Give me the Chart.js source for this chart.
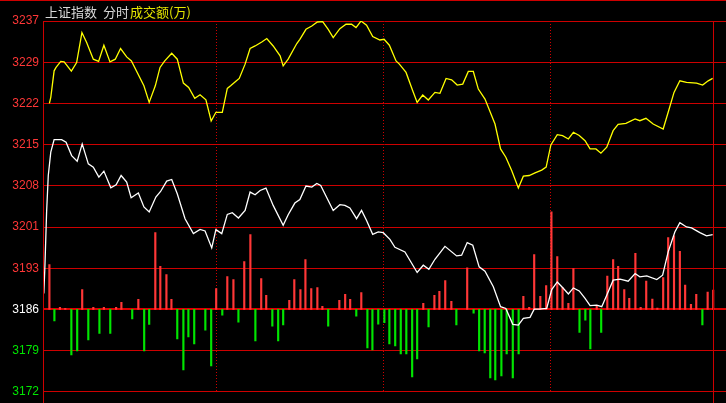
<!DOCTYPE html>
<html>
<head>
<meta charset="utf-8">
<script src="https://cdn.jsdelivr.net/npm/chart.js@4"></script>
<style>
  html, body { margin: 0; padding: 0; background: #000; }
  canvas { display: block; }
</style>
</head>
<body>
<canvas id="fenshi" width="726" height="403"></canvas>
<script>
// previous close and grid step of the price axis
const BASE = 3186;
const STEP = 7.222;
const tickLabels = ['3172', '3179', '3186', '3193', '3201', '3208', '3215', '3222', '3229', '3237'];

// minute index (0 = open) for each reading
const priceTimes = [0.3, 0.7, 1.3, 1.9, 2.8, 4.0, 6.7, 8.3, 10.3, 12.3, 14.1, 16.3, 18.1, 20.1, 21.9, 24.4, 26.3, 28.1, 30.1, 31.7,
  34.3, 36.3, 38.2, 40.6, 42.3, 44.5, 46.3, 48.3, 51.1, 54.1, 56.5, 58.3, 60.7, 62.2, 64.3, 66.3, 68.1, 70.3, 72.7, 74.5,
  76.3, 78.1, 80.2, 82.8, 86.4, 88.2, 90.6, 92.4, 94.6, 96.7, 98.5, 99.9, 102.6, 104.4, 106.8, 108.6, 110.4, 112.8, 114.6, 116.4,
  118.6, 120.6, 122.4, 124.8, 126.6, 130.2, 134.6, 136.8, 138.8, 141.0, 144.6, 148.8, 150.6, 152.6, 154.6, 156.9, 159.0, 162.0, 164.6, 166.5,
  169.0, 171.0, 172.8, 175.2, 176.7, 178.5, 181.2, 183.0, 185.0, 186.9, 189.0, 190.8, 192.9, 195.0, 196.8, 199.2, 201.0, 202.8, 205.1, 207.6,
  210.5, 213.0, 214.7, 217.2, 220.8, 222.9, 224.9, 227.3, 229.1, 231.5, 233.3, 236.3, 238.7, 240.9];
const priceValues = [3188.80, 3193.74, 3203.12, 3209.47, 3213.56, 3215.76, 3215.76, 3215.30, 3212.96, 3211.98, 3215.01, 3211.51, 3210.94, 3209.19, 3210.24, 3207.32, 3207.84, 3209.47, 3208.31, 3205.57,
  3206.39, 3203.95, 3203.07, 3205.69, 3206.67, 3208.49, 3208.77, 3206.27, 3201.90, 3199.28, 3200.03, 3199.75, 3196.78, 3199.98, 3199.28, 3202.65, 3202.95, 3202.02, 3203.35, 3206.57,
  3206.10, 3206.85, 3207.27, 3204.23, 3200.73, 3202.60, 3204.64, 3205.27, 3207.62, 3207.44, 3208.07, 3207.72, 3205.10, 3203.35, 3204.35, 3204.23, 3203.77, 3201.90, 3203.35, 3201.60,
  3199.16, 3199.58, 3199.45, 3198.28, 3196.89, 3196.08, 3192.47, 3193.74, 3193.04, 3194.79, 3197.06, 3195.38, 3195.49, 3197.71, 3197.24, 3193.46, 3192.69, 3189.97, 3186.47, 3186.17,
  3183.38, 3183.26, 3184.43, 3184.60, 3186.05, 3186.05, 3186.17, 3189.49, 3190.81, 3189.84, 3188.71, 3189.76, 3189.23, 3187.92, 3186.65, 3186.75, 3186.47, 3188.50, 3191.12, 3191.29,
  3190.95, 3192.29, 3191.71, 3191.89, 3191.24, 3191.99, 3196.08, 3199.58, 3201.20, 3200.45, 3200.28, 3199.45, 3198.88, 3199.11];

const avgTimes = [2.3, 2.8, 4.0, 4.7, 6.4, 7.6, 10.2, 12.1, 14.0, 15.7, 18.1, 20.0, 21.9, 24.1, 26.0, 27.9, 30.1, 31.8, 36.3, 38.2,
  40.4, 42.1, 43.8, 46.3, 48.3, 50.5, 52.4, 54.6, 56.5, 58.6, 60.5, 62.2, 64.5, 66.3, 67.5, 69.7, 70.6, 72.7, 74.5, 76.3,
  78.7, 80.5, 82.8, 85.3, 86.4, 88.2, 91.3, 92.4, 94.6, 96.7, 98.7, 100.6, 102.6, 104.4, 106.8, 109.0, 111.0, 112.6, 114.4, 116.4,
  118.6, 121.2, 122.7, 124.6, 127.0, 128.2, 130.6, 133.0, 134.6, 136.6, 138.6, 141.0, 142.8, 145.0, 147.0, 149.0, 151.0, 153.0, 154.8, 156.6,
  159.0, 162.6, 164.6, 166.5, 168.6, 171.0, 172.8, 174.9, 177.0, 179.4, 181.0, 182.7, 185.0, 186.9, 189.0, 190.8, 192.9, 195.0, 196.8, 198.9,
  200.7, 202.8, 205.1, 206.9, 209.7, 213.0, 214.7, 216.9, 219.5, 223.1, 224.9, 227.0, 229.1, 231.5, 235.1, 237.3, 239.3, 240.9];
const avgValues = [3222.12, 3223.17, 3227.82, 3228.41, 3229.46, 3229.39, 3227.76, 3229.28, 3234.53, 3232.78, 3229.86, 3229.46, 3232.31, 3229.39, 3229.86, 3231.73, 3230.26, 3229.56, 3225.19, 3222.29,
  3225.19, 3228.41, 3229.56, 3230.91, 3229.86, 3225.67, 3224.91, 3222.99, 3223.62, 3222.75, 3219.03, 3220.55, 3220.55, 3224.74, 3225.19, 3226.14, 3226.49, 3228.99, 3231.73, 3232.18,
  3232.88, 3233.48, 3232.18, 3230.44, 3228.69, 3229.86, 3232.60, 3233.35, 3235.10, 3235.68, 3236.38, 3236.45, 3235.10, 3233.65, 3235.22, 3235.98, 3235.98, 3235.40, 3236.55, 3235.80,
  3233.83, 3233.23, 3233.35, 3232.31, 3229.56, 3228.99, 3227.54, 3224.32, 3222.29, 3223.57, 3222.70, 3224.04, 3223.87, 3226.49, 3226.24, 3225.32, 3225.49, 3227.71, 3227.71, 3224.62,
  3222.87, 3218.50, 3214.13, 3212.68, 3210.34, 3207.27, 3209.36, 3209.47, 3209.94, 3210.41, 3210.94, 3214.83, 3216.63, 3216.46, 3215.88, 3217.05, 3216.49, 3215.58, 3214.13, 3214.13,
  3213.38, 3214.43, 3217.33, 3218.45, 3218.62, 3219.38, 3219.08, 3219.50, 3218.50, 3217.63, 3220.55, 3224.04, 3226.07, 3225.79, 3225.67, 3225.32, 3226.07, 3226.49];

// red/green strength bars, measured from the previous close
const barTimes = [2.3, 4.1, 6.1, 8.0, 10.2, 12.3, 14.1, 16.3, 18.1, 20.3, 21.9, 24.2, 26.3, 28.2, 32.1, 34.3, 36.4, 38.2, 40.4, 42.2,
  44.4, 46.2, 48.3, 50.5, 52.3, 54.4, 58.4, 60.5, 62.3, 64.5, 66.3, 68.5, 70.3, 72.4, 74.6, 76.4, 78.5, 80.3, 82.5, 84.6,
  86.4, 88.6, 90.4, 92.6, 94.4, 96.5, 98.7, 100.5, 102.6, 106.6, 108.7, 110.5, 112.7, 114.5, 116.7, 118.5, 120.6, 122.8, 124.6, 126.7,
  128.7, 130.7, 132.8, 134.6, 136.8, 138.7, 140.8, 142.6, 144.7, 146.9, 148.7, 152.6, 154.9, 156.9, 158.9, 160.9, 162.7, 164.9, 166.8, 169.0,
  171.1, 172.8, 174.9, 176.7, 178.9, 181.0, 182.9, 185.0, 186.9, 189.0, 190.8, 193.0, 195.1, 196.9, 199.2, 200.8, 203.0, 205.1, 206.9, 209.1,
  210.9, 213.1, 215.0, 217.0, 219.2, 221.0, 223.1, 224.9, 227.0, 229.1, 231.0, 233.1, 235.0, 237.2, 239.1, 241.1];
const barValues = [7.86, -2.04, 0.35, 0.17, -7.99, -7.29, 3.49, -5.36, 0.35, -4.19, 0.35, -4.19, 0.35, 1.22, -1.69, 1.75, -7.29, -2.62, 13.45, 7.57,
  6.12, 1.75, -5.19, -10.61, -4.84, -6.06, -3.62, -9.91, 3.67, -1.00, 5.77, 5.24, -2.22, 8.39, 13.11, -5.54, 5.42, 2.45, -2.92, -5.54,
  -2.74, 1.57, 5.24, 3.49, 8.74, 3.67, 3.84, 0.52, -2.92, 1.57, 2.62, 1.75, -1.17, 2.97, -6.76, -7.11, -2.57, -2.32, -6.06, -6.41,
  -7.81, -7.81, -11.83, -8.68, 1.05, -3.09, 2.45, 3.15, 5.07, 1.40, -2.74, 7.29, -0.65, -7.29, -7.64, -12.00, -12.35, -11.66, -7.81, -12.00,
  -7.81, 2.27, 0.35, 9.61, 2.27, 4.19, 17.12, 9.26, 3.84, 1.05, 7.16, -4.02, -1.87, -6.94, 0.65, -4.02, 5.82, 8.74, 7.57, 3.49,
  1.92, 9.84, 0.35, 4.95, 1.80, 0.23, 5.59, 12.58, 12.88, 10.19, 4.25, 0.87, 2.62, -2.74, 3.02, 3.37];

const hourMarks = [62.4, 122.5, 182.7];
const sessionEnd = 241;

const RED = 'rgb(255,55,55)';
const GREEN = 'rgb(0,230,0)';
const GRID = 'rgb(205,0,0)';

const frame = {
  id: 'frame',
  beforeDraw(chart) {
    const c = chart.ctx;
    c.save();
    c.fillStyle = '#000';
    c.fillRect(0, 0, chart.width, chart.height);
    c.restore();
  },
  afterDraw(chart) {
    const c = chart.ctx;
    const area = chart.chartArea;
    const top = Math.round(area.top);
    const xLeft = Math.round(area.left);
    const xEnd = Math.round(chart.scales.x.getPixelForValue(sessionEnd));
    c.save();
    // frame lines: top edge, left axis, end of session
    c.fillStyle = GRID;
    c.fillRect(0, 0, chart.width, 1);
    c.fillRect(xLeft, top, 1, chart.height - top);
    c.fillRect(xEnd, top, 1, chart.height - top);

    c.font = '13px "Noto Sans CJK SC"';
    c.textBaseline = 'middle';
    c.fillStyle = '#d8d8d8';
    c.fillText('上证指数', 45, 12);
    c.fillText('分时', 103, 12);
    c.fillStyle = '#e6e600';
    c.fillText('成交额(万)', 130, 12);
    c.restore();
  }
};

new Chart(document.getElementById('fenshi'), {
  type: 'bar',
  plugins: [frame],
  data: {
    datasets: [
      {
        type: 'line',
        data: priceTimes.map((t, i) => ({ x: t, y: priceValues[i] })),
        borderColor: '#ffffff',
        borderWidth: 1.3,
        pointRadius: 0,
        tension: 0
      },
      {
        type: 'line',
        data: avgTimes.map((t, i) => ({ x: t, y: avgValues[i] })),
        borderColor: '#ffff00',
        borderWidth: 1.3,
        pointRadius: 0,
        tension: 0
      },
      {
        type: 'bar',
        data: barTimes.map((t, i) => ({ x: t, y: [BASE, BASE + barValues[i]] })),
        backgroundColor: barValues.map(v => v >= 0 ? RED : GREEN),
        borderWidth: 0,
        barThickness: 1.5
      }
    ]
  },
  options: {
    responsive: false,
    animation: false,
    layout: { padding: { top: 21, bottom: 10, left: 0, right: 0 } },
    plugins: { legend: { display: false }, tooltip: { enabled: false } },
    scales: {
      x: {
        type: 'linear',
        min: 0,
        max: 245.7,
        offset: false,
        afterBuildTicks: s => { s.ticks = hourMarks.map(v => ({ value: v })); },
        ticks: { display: false },
        border: { display: false, dash: [1, 2] },
        grid: { color: GRID, lineWidth: 1, drawTicks: false, offset: false }
      },
      y: {
        min: BASE - 2 * STEP,
        max: BASE + 7 * STEP,
        afterBuildTicks: s => { s.ticks = tickLabels.map((_, k) => ({ value: BASE + (k - 2) * STEP })); },
        afterFit: s => { s.width = 43; },
        border: { display: false },
        grid: {
          drawTicks: false,
          color: ctx => Math.abs(ctx.tick.value - BASE) < 0.01 ? 'rgb(220,0,0)' : GRID,
          lineWidth: ctx => Math.abs(ctx.tick.value - BASE) < 0.01 ? 2 : 1
        },
        ticks: {
          padding: 4,
          font: { family: 'Liberation Sans', size: 12 },
          color: ctx => {
            const v = ctx.tick.value;
            if (Math.abs(v - BASE) < 0.01) return '#ffffff';
            return v > BASE ? RED : GREEN;
          },
          callback: (value, index) => tickLabels[index]
        }
      }
    }
  }
});
</script>
</body>
</html>
